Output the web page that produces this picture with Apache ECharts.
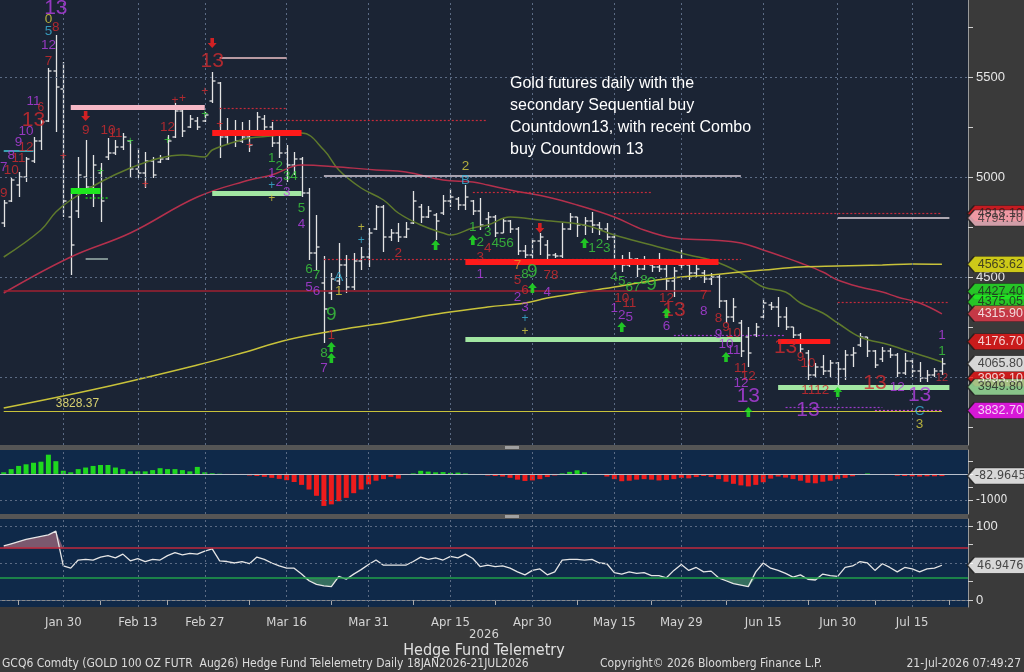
<!DOCTYPE html>
<html>
<head>
<meta charset="utf-8">
<script src="https://cdn.jsdelivr.net/npm/echarts@6/dist/echarts.min.js"></script>
<style>
html,body{margin:0;padding:0;background:#3a3a3a;}
#chart{width:1024px;height:672px;}
</style>
</head>
<body>
<div id="chart"></div>
<script>
// trading days 20 Jan - 21 Jul 2026 (exchange holidays skipped)
var holidays = ['2026-02-16','2026-05-25','2026-06-19','2026-07-03'];
var monthNames = ['Jan','Feb','Mar','Apr','May','Jun','Jul','Aug','Sep','Oct','Nov','Dec'];
var dates = [];
for (var d = new Date(Date.UTC(2026,0,20)); d <= new Date(Date.UTC(2026,6,21)); d.setUTCDate(d.getUTCDate()+1)) {
  var wd = d.getUTCDay();
  var iso = d.toISOString().slice(0,10);
  if (wd === 0 || wd === 6 || holidays.indexOf(iso) >= 0) continue;
  dates.push(monthNames[d.getUTCMonth()] + ' ' + d.getUTCDate());
}
var categories = dates.concat([' ', '  ', '   ']);   // empty room before the price scale
var labelIdx = [8,18,27,38,49,60,71,82,91,102,112,122];
var tickIdx = [2,13,22,33,44,55,66,77,87,97,108,117,127];

// OHLC (GCQ6)
var opens  = [4770,4880,4960,5000,5080,5180,5280,5530,5440,4800, 4830,5000,4950,5020,5100,5120,5150,5180,5040,5020,
              5080,5075,5090,5200,5330,5250,5280,5280,5380,5470, 5200,5230,5180,5200,5230,5290,5250,5170,5120,5060,
              5090,4920,4620,4470,4420,4480,4560,4450,4580,4600, 4740,4850,4700,4720,4700,4770,4850,4800,4810,4820,
              4880,4890,4860,4880,4830,4790,4800,4720,4780,4740, 4630,4610,4680,4660,4610,4605,4740,4800,4760,4780,
              4760,4740,4700,4580,4560,4590,4540,4560,4550,4540, 4480,4560,4560,4520,4520,4490,4500,4380,4300,4270,
              4200,4210,4300,4360,4350,4300,4250,4210,4120,4010, 4050,4030,4070,4040,4110,4160,4200,4130,4090,4130,
              4110,4020,4080,4030,3995,4010,4030];
var highs  = [4885,4995,5025,5100,5200,5285,5545,5710,5575,4920, 5100,5185,5110,5070,5195,5185,5220,5185,5145,5125,
              5100,5110,5210,5370,5345,5310,5300,5325,5525,5475, 5295,5285,5275,5285,5325,5310,5275,5220,5160,5125,
              5100,4945,4810,4605,4520,4670,4610,4620,4650,4745, 4860,4860,4740,4770,4775,4930,4865,4855,4820,4910,
              4940,4900,4960,4885,4895,4825,4810,4795,4785,4750, 4660,4695,4720,4685,4620,4770,4820,4800,4800,4825,
              4775,4770,4720,4610,4625,4595,4605,4575,4620,4560, 4550,4635,4570,4560,4535,4520,4510,4385,4395,4285,
              4250,4270,4395,4375,4400,4350,4250,4220,4135,4070, 4110,4085,4075,4135,4150,4220,4200,4135,4150,4145,
              4120,4120,4095,4075,4035,4045,4095];
var lows   = [4750,4875,4900,4975,5070,5135,5275,5225,4800,4510, 4795,4910,4850,4775,5085,5110,5135,4995,4995,4945,
              4995,5070,5085,5195,5200,5245,5235,5275,5370,5095, 5160,5150,5170,5125,5220,5235,5150,5095,4975,5010,
              4900,4585,4535,4170,4385,4460,4420,4435,4535,4550, 4735,4625,4680,4675,4695,4765,4770,4795,4685,4810,
              4850,4835,4835,4810,4735,4750,4700,4720,4720,4610, 4595,4595,4610,4585,4595,4595,4735,4700,4710,4720,
              4710,4685,4535,4525,4550,4500,4535,4525,4525,4435, 4400,4535,4485,4500,4470,4460,4345,4270,4275,4100,
              4050,4200,4295,4335,4250,4235,4195,4120,3985,3995, 4010,4000,3935,3985,4050,4150,4100,4045,4075,4095,
              4000,4010,4000,3975,3975,4000,4010];
var closes = [4870,4985,5000,5090,5180,5275,5530,5450,4880,4660, 5010,4950,5060,4880,5120,5150,5200,5040,5020,5080,
              5010,5090,5180,5330,5230,5290,5250,5310,5480,5200, 5230,5180,5200,5160,5300,5250,5170,5120,5060,5090,
              4920,4620,4650,4340,4490,4560,4450,4580,4600,4720, 4850,4700,4720,4700,4740,4880,4800,4830,4780,4880,
              4900,4860,4900,4830,4760,4800,4720,4780,4740,4630, 4610,4680,4700,4610,4605,4740,4800,4760,4780,4760,
              4740,4700,4580,4560,4590,4540,4580,4550,4540,4480, 4530,4560,4520,4540,4490,4500,4380,4300,4350,4130,
              4120,4250,4370,4350,4300,4250,4210,4140,4010,4050, 4030,4070,4040,4110,4120,4200,4130,4060,4130,4110,
              4020,4080,4030,3995,4010,4030,4065.8];

// moving averages: [bar index, price]
var maShort = [[0,4600],[5,4735],[7,4825],[9,4885],[13,4975],[17,5045],[21,5095],[24,5110],[27,5100],[28,5135],
               [31,5175],[33,5195],[36,5205],[40,5220],[43,5135],[45,5035],[48,4945],[51,4885],[53,4820],[56,4760],
               [59,4720],[60,4710],[63,4745],[65,4760],[68,4800],[72,4785],[78,4760],[82,4710],[87,4660],[92,4610],
               [95,4585],[99,4520],[102,4450],[105,4425],[107,4370],[110,4320],[112,4270],[115,4200],[119,4160],
               [121,4135],[124,4100],[126,4075]];
var maMid   = [[0,4420],[9,4600],[17,4720],[26,4900],[33,4985],[36,5010],[40,5060],[45,5050],[50,5035],[54,5025],
               [59,4985],[63,4975],[65,4960],[68,4935],[73,4900],[77,4860],[82,4800],[86,4735],[90,4695],[95,4685],
               [99,4670],[102,4635],[104,4610],[107,4570],[110,4525],[112,4485],[115,4450],[118,4425],[120,4400],
               [123,4370],[126,4315.9]];
var maLong  = [[0,3845],[13,3945],[26,4060],[32,4120],[38,4185],[45,4235],[52,4275],[59,4320],[65,4350],[70,4370],
               [73,4395],[82,4450],[86,4475],[91,4500],[95,4510],[99,4525],[102,4535],[107,4550],[112,4555],
               [118,4560],[122,4565],[126,4563.62]];

// indicator panels
var histogram = [62,185,308,370,430,470,740,490,123,62, 185,246,308,344,344,246,185,98,98,98,
                 148,221,185,185,148,98,270,62,25,10, -10,-25,-40,-60,-80,-110,-150,-190,-240,-310,
                 -420,-600,-840,-1230,-1170,-1050,-920,-740,-600,-400, -260,-200,-110,-180,-20,20,120,90,60,70,
                 40,50,20,-20,-40,-60,-80,-100,-150,-220, -270,-250,-200,-120,-60,20,80,140,60,-10,
                 -30,-100,-200,-280,-260,-220,-200,-220,-250,-230, -200,-150,-170,-120,-80,-120,-200,-300,-380,-440,
                 -480,-420,-320,-180,-100,-140,-200,-260,-340,-360, -300,-260,-200,-150,-90,-20,20,0,-10,-40,
                 -70,-80,-90,-100,-90,-90,-82.96];
var oscillator = [73,76,79,82,84,86,88,93,46,43, 54,55,54,58,60,57,62,53,56,52,
                  55,54,60,64,61,63,62,66,69,53, 52,50,52,49,58,55,50,46,43,43,
                  35,26,21,19,18,32,28,35,41,48, 54,47,47,47,47,52,58,55,57,54,
                  59,57,62,56,45,47,45,46,43,38, 34,40,42,34,38,54,55,55,54,55,
                  50,49,37,35,38,36,37,33,33,30, 40,48,40,44,38,39,30,26,22,20,
                  18,38,50,43,40,36,31,34,28,27, 35,33,32,44,46,52,50,40,49,44,
                  38,44,42,38,42,43,46.95];

// level lines: from bar, to bar, price, colour, width, style
var segFrom  = [9, 28,28,9, 11,11,29,29,36,63, 82, 43,112,43,62,0, 62,104,104,90, 105,117,0, 0, 112];
var segTo    = [27,40,40,13,14,14,38,38,65,87, 126,99,127,99,96,95,99,111,127,105,118,126,126,4, 127];
var segLevel = [5350,5220,4920,4930,4895,4590,5595,5345,5282,4925, 4818.1,5005,4794.7,4588,4575,4430,4190,4176.7,3949.8,4210,
                3850,3832.7,3828.37,5130,4375];
var segColor = ['#f6b8c6','#ff1a1a','#a2e6a2','#1ee81e','#1ec81e','#7d8f8f','#b89aa2','#c42a3a','#c42a3a','#c42a3a',
                '#c42a3a','#d8ccd8','#e0d4dc','#c42a3a','#ff1a1a','#a02030','#a2e6a2','#ff1a1a','#a2e6a2','#9a3ac8',
                '#9a3ac8','#d040d0','#c8c23a','#3aa0b0','#c42a3a'];
var segWidth = [5,6,5,6,1.5,2,2,1.2,1.2,1.2, 1.2,1.5,1.5,1.2,6,1.5,5,5,5,1.2, 1.2,1.2,1.2,2,1.2];
var segType  = ['solid','solid','solid','solid','dotted','solid','solid','dotted','dotted','dotted',
                'dotted','solid','solid','dotted','solid','solid','solid','solid','solid','dotted',
                'dotted','dotted','solid','solid','dotted'];

// sequential / combo counts: bar, price, text, colour key, size
var seqColors = {r:'#d22a2e', m:'#b43fe3', g:'#3ccc3c', y:'#d8d040', c:'#3cb4d8', o:'#e8962c'};
var seqMarks = [
  [7,5845,'13','m',21],[6,5790,'0','y',13.5],[6,5730,'5','c',13.5],[7,5750,'8','r',13.5],[6,5660,'12','m',13.5],[6,5580,'7','r',13.5],
  [4,5380,'11','m',13.5],[5,5345,'6','r',12],[4,5285,'13','r',21],[3,5230,'10','m',13.5],[2,5175,'9','m',13.5],[3,5150,'12','r',13.5],
  [1,5110,'8','m',13.5],[2,5095,'11','r',13.5],[0,5050,'7','m',13.5],[1,5035,'10','r',13.5],[0,4920,'9','r',13.5],
  [11,5235,'9','r',13.5],[14,5235,'10','r',13.5],[15,5220,'11','r',13.5],[22,5250,'12','r',13.5],[28,5580,'13','r',21],
  [36,5095,'1','g',13.5],[37,5055,'2','g',13.5],[38,5005,'3','g',13.5],[39,5005,'4','g',13.5],[40,4845,'5','g',13.5],[40,4765,'4','m',13.5],
  [36,5020,'1','m',13.5],[37,4975,'2','m',13.5],[38,4925,'3','m',13.5],
  [41,4540,'6','g',13.5],[42,4510,'7','g',13.5],[41,4450,'5','m',13.5],[42,4430,'6','m',13.5],[45,4500,'A','c',13.5],[45,4430,'1','y',13.5],
  [44,4310,'9','g',19],[44,4210,'1','r',13.5],[43,4120,'8','g',13.5],[43,4045,'7','m',13.5],
  [53,4620,'2','r',13.5],[62,5055,'2','y',13.5],[62,4985,'B','c',13.5],
  [63,4750,'1','g',13.5],[64,4675,'2','g',13.5],[65,4725,'3','g',13.5],[65,4645,'4','r',13.5],[66,4670,'4','g',13.5],[67,4670,'5','g',13.5],
  [68,4670,'6','g',13.5],[64,4600,'3','r',13.5],[64,4515,'1','m',13.5],
  [69,4560,'7','o',13.5],[70,4515,'8','g',13.5],[71,4525,'9','g',19],[69,4485,'5','r',13.5],[70,4435,'6','r',13.5],[69,4400,'2','m',13.5],
  [70,4350,'3','m',13.5],[73,4510,'7','r',13.5],[74,4510,'8','r',13.5],[73,4425,'4','m',13.5],
  [79,4645,'1','g',13.5],[80,4665,'2','g',13.5],[81,4645,'3','g',13.5],
  [82,4500,'4','g',13.5],[83,4480,'5','g',13.5],[84,4450,'6','g',13.5],[85,4450,'7','g',13.5],[86,4485,'8','g',13.5],[87,4460,'9','g',19],
  [83,4395,'10','r',13.5],[84,4370,'11','r',13.5],[82,4345,'1','m',13.5],[83,4310,'2','m',13.5],[84,4300,'5','m',13.5],
  [89,4395,'12','r',13.5],[90,4335,'13','r',21],[89,4255,'6','m',13.5],
  [94,4410,'7','r',13.5],[94,4330,'8','m',13.5],[96,4295,'8','r',13.5],[97,4250,'9','r',13.5],[98,4220,'10','r',13.5],
  [96,4215,'9','m',13.5],[97,4165,'10','m',13.5],[98,4135,'11','m',13.5],
  [99,4045,'11','r',13.5],[100,4005,'12','r',13.5],[99,3970,'12','m',13.5],[100,3905,'13','m',21],
  [105,4150,'13','r',21],[107,4100,'9','r',13.5],[108,4070,'10','r',13.5],[109,3935,'1112','r',13.5],[108,3835,'13','m',21],
  [117,3970,'13','r',21],[120,3950,'12','m',13.5],[123,3910,'13','m',21],[123,3830,'C','c',13.5],[123,3765,'3','y',13.5],
  [126,4210,'1','m',13.5],[126,4130,'1','g',13.5],[126,3995,'12','r',11],
  [36,4955,'+','c',12],[36,4890,'+','y',12],[48,4745,'+','y',12],[48,4680,'+','c',12],[70,4290,'+','c',12],[70,4225,'+','y',12],
  [23,5380,'+','r',12],[24,5390,'+','r',12],[27,5425,'+','r',12],[8,5100,'+','r',12],[29,5260,'+','r',12],[33,5155,'+','r',12],
  [19,4960,'+','r',12],[17,5175,'+','g',12],[13,5025,'+','g',12],[22,5180,'+','g',12],[27,5310,'+','g',12]
];
var downArrows = [[11,5305],[28,5670],[72,4745]];
var upArrows = [[44,4150],[44,4095],[58,4660],[63,4685],[71,4445],[78,4670],[83,4250],[89,4320],[97,4100],[100,3825],[112,3925]];

// right-hand value tags
var tagValues = [4818.10,4794.70,4563.62,4427.40,4375.05,4315.90,4176.70,3993.10,4065.80,3949.80,3832.70];
var tagFill   = ['#e8141c','#f8b8c4','#f2ee10','#22e822','#22e822','#e8384a','#ee1414','#ee1414','#ffffff','#9ee89e','#ff10ff'];
var tagInk    = ['#222','#333','#222','#222','#222','#fff','#fff','#fff','#222','#222','#fff'];
var histTag = -82.9645;
var oscTag = 46.9476;

var FONT = '"Liberation Sans", Arial, sans-serif';
var NARROW = '"Liberation Sans Narrow", "DejaVu Sans Condensed", sans-serif';
var lastCat = categories.length - 1;
var tagPath = 'path://M0,8L7,0L64,0L64,16L7,16Z';

function tagSeries(xi, yi, values, digits, fills, inks, font, size) {
  return {
    type: 'scatter', xAxisIndex: xi, yAxisIndex: yi, clip: false, silent: true, z: 10,
    symbol: tagPath, symbolSize: [64, 16], symbolKeepAspect: false, symbolOffset: [35, 0],
    data: values.map(function (v, k) {
      return {
        value: [lastCat, v],
        itemStyle: {color: fills[k], borderColor: '#1a1a1a', borderWidth: 1},
        label: {show: true, position: 'inside', offset: [1, 0], formatter: v.toFixed(digits),
                color: inks[k], fontSize: size, fontFamily: font}
      };
    })
  };
}

var vGrid = labelIdx.map(function (i) { return {xAxis: i}; });
var dotted = {color: '#5b6b84', type: [2, 3], width: 1};
var plain = function (v) { return String(v); };

var ohlc = opens.map(function (o, i) { return [i, o, highs[i], lows[i], closes[i]]; });

var segData = segLevel.map(function (v, k) {
  var item = [{coord: [segFrom[k], v], lineStyle: {color: segColor[k], width: segWidth[k], type: segType[k] === 'dotted' ? [2, 2] : 'solid'}},
              {coord: [segTo[k], v]}];
  if (v === 3828.37) {
    item[0].label = {show: true, position: 'insideStartTop', formatter: '3828.37', color: '#d8d070',
                     fontSize: 12, fontFamily: FONT, padding: [0, 0, 0, 50], distance: 2};
  }
  return item;
});

var seqData = seqMarks.map(function (s) {
  return {value: [s[0], s[1]], label: {formatter: s[2], color: seqColors[s[3]], fontSize: s[4]}};
});

var chart = echarts.init(document.getElementById('chart'));
chart.setOption({
  backgroundColor: '#3a3a3a',
  animation: false,
  textStyle: {fontFamily: FONT},
  grid: [
    {left: 0, right: 56, top: 0, height: 445, show: true, backgroundColor: '#1b2434', borderWidth: 0},
    {left: 0, right: 56, top: 450, height: 64, show: true, backgroundColor: '#0f2949', borderWidth: 0},
    {left: 0, right: 56, top: 519, height: 88, show: true, backgroundColor: '#0f2949', borderWidth: 0}
  ],
  xAxis: [0, 1, 2].map(function (g) {
    return {
      type: 'category', gridIndex: g, data: categories, boundaryGap: true,
      axisLine: {show: g === 2, lineStyle: {color: '#8a8a8a'}},
      axisTick: {show: g === 2, alignWithLabel: true, length: 5, lineStyle: {color: '#aaaaaa'},
                 interval: function (i) { return tickIdx.indexOf(i) >= 0; }},
      axisLabel: {show: g === 2, color: '#d4d4d4', fontSize: 13, fontFamily: NARROW, margin: 9,
                  interval: function (i) { return labelIdx.indexOf(i) >= 0; }},
      splitLine: {show: false}
    };
  }),
  yAxis: [
    {type: 'value', gridIndex: 0, position: 'right', min: 3660, max: 5885, scale: true,
     axisLine: {show: true, lineStyle: {color: '#9a9a9a'}},
     axisTick: {show: true, length: 5, lineStyle: {color: '#d0d0d0'}, customValues: [3750,4000,4250,4500,4750,5000,5250,5500,5750]},
     axisLabel: {color: '#e6e6e6', fontSize: 13, margin: 8, formatter: plain, customValues: [4500, 5000, 5500]},
     splitLine: {show: false}},
    {type: 'value', gridIndex: 1, position: 'right', min: -1540, max: 920,
     axisLine: {show: true, lineStyle: {color: '#9a9a9a'}},
     axisTick: {show: true, length: 5, lineStyle: {color: '#d0d0d0'}, customValues: [-1000, -500, 0, 500]},
     axisLabel: {color: '#e6e6e6', fontSize: 12, fontFamily: NARROW, margin: 8, formatter: plain, customValues: [-1000]},
     splitLine: {show: false}},
    {type: 'value', gridIndex: 2, position: 'right', min: -9.5, max: 109.5,
     axisLine: {show: true, lineStyle: {color: '#9a9a9a'}},
     axisTick: {show: true, length: 5, lineStyle: {color: '#d0d0d0'}, customValues: [0, 25, 50, 75, 100]},
     axisLabel: {color: '#e6e6e6', fontSize: 13, margin: 8, formatter: plain, customValues: [0, 100]},
     splitLine: {show: false}}
  ],
  series: [
    // main panel grid lines
    {type: 'line', xAxisIndex: 0, yAxisIndex: 0, data: closes, silent: true, z: 1,
     showSymbol: false, lineStyle: {opacity: 0},
     markLine: {silent: true, symbol: 'none', label: {show: false}, lineStyle: dotted, animation: false,
                data: vGrid.concat([{yAxis: 4000}, {yAxis: 4500}, {yAxis: 5000}, {yAxis: 5500}])}},
    // price bars
    {type: 'custom', xAxisIndex: 0, yAxisIndex: 0, z: 2, silent: true, data: ohlc,
     renderItem: function (params, api) {
       var i = api.value(0);
       var pO = api.coord([i, api.value(1)]), pH = api.coord([i, api.value(2)]);
       var pL = api.coord([i, api.value(3)]), pC = api.coord([i, api.value(4)]);
       var x = Math.round(pH[0]) + 0.5;
       var st = {stroke: '#e4e4e4', lineWidth: 1.3};
       return {type: 'group', children: [
         {type: 'line', shape: {x1: x, y1: pH[1], x2: x, y2: pL[1]}, style: st},
         {type: 'line', shape: {x1: x - 3, y1: pO[1], x2: x, y2: pO[1]}, style: st},
         {type: 'line', shape: {x1: x, y1: pC[1], x2: x + 3, y2: pC[1]}, style: st}
       ]};
     }},
    {type: 'line', xAxisIndex: 0, yAxisIndex: 0, data: maShort, smooth: 0.4, showSymbol: false, z: 3,
     lineStyle: {color: '#5f7a2c', width: 1.5}},
    {type: 'line', xAxisIndex: 0, yAxisIndex: 0, data: maMid, smooth: 0.4, showSymbol: false, z: 3,
     lineStyle: {color: '#b4304c', width: 1.5}},
    {type: 'line', xAxisIndex: 0, yAxisIndex: 0, data: maLong, smooth: 0.4, showSymbol: false, z: 3,
     lineStyle: {color: '#c8c23a', width: 1.5}},
    // levels
    {type: 'line', xAxisIndex: 0, yAxisIndex: 0, data: closes, silent: true, z: 4,
     showSymbol: false, lineStyle: {opacity: 0},
     markLine: {silent: true, symbol: 'none', animation: false, label: {show: false}, data: segData}},
    // counts
    {type: 'scatter', xAxisIndex: 0, yAxisIndex: 0, z: 5, silent: true, symbolSize: 1,
     itemStyle: {color: 'rgba(0,0,0,0)'}, data: seqData,
     label: {show: true, position: 'inside', fontFamily: FONT}},
    {type: 'scatter', xAxisIndex: 0, yAxisIndex: 0, z: 6, silent: true, data: downArrows,
     symbol: 'path://M3,0L7,0L7,5L10,5L5,10L0,5L3,5Z', symbolSize: [9, 10], itemStyle: {color: '#ff2020'}},
    {type: 'scatter', xAxisIndex: 0, yAxisIndex: 0, z: 6, silent: true, data: upArrows,
     symbol: 'path://M5,0L10,5L7,5L7,10L3,10L3,5L0,5Z', symbolSize: [9, 10], itemStyle: {color: '#22ee22'}},
    tagSeries(0, 0, tagValues, 2, tagFill, tagInk, FONT, 12.5),

    // middle panel
    {type: 'line', xAxisIndex: 1, yAxisIndex: 1, data: histogram, silent: true, z: 1,
     showSymbol: false, lineStyle: {opacity: 0},
     markLine: {silent: true, symbol: 'none', label: {show: false}, lineStyle: dotted, animation: false,
                data: vGrid.concat([{yAxis: -1000}])}},
    {type: 'bar', xAxisIndex: 1, yAxisIndex: 1, data: histogram, barWidth: 5, z: 2, silent: true,
     itemStyle: {color: function (p) { return p.value >= 0 ? '#1fd81f' : '#ee1c1c'; }},
     markLine: {silent: true, symbol: 'none', label: {show: false}, animation: false,
                lineStyle: {color: '#b8c0cc', width: 1, type: 'solid'}, data: [{yAxis: 0}]}},
    tagSeries(1, 1, [histTag], 4, ['#ffffff'], ['#222'], NARROW, 12.5),

    // bottom panel
    {type: 'line', xAxisIndex: 2, yAxisIndex: 2, data: oscillator, silent: true, z: 1,
     showSymbol: false, lineStyle: {opacity: 0},
     markLine: {silent: true, symbol: 'none', label: {show: false}, lineStyle: dotted, animation: false,
                data: vGrid.concat([{yAxis: 0}, {yAxis: 50}, {yAxis: 100},
                  {yAxis: 70, lineStyle: {color: '#c0283c', type: 'solid', width: 1.5}},
                  {yAxis: 30, lineStyle: {color: '#22a04a', type: 'solid', width: 1.5}}])}},
    {type: 'line', xAxisIndex: 2, yAxisIndex: 2, silent: true, z: 2, showSymbol: false,
     data: oscillator.map(function (v) { return Math.max(v, 70); }),
     lineStyle: {opacity: 0}, areaStyle: {origin: 70, color: 'rgba(196,120,136,0.85)'}},
    {type: 'line', xAxisIndex: 2, yAxisIndex: 2, silent: true, z: 2, showSymbol: false,
     data: oscillator.map(function (v) { return Math.min(v, 30); }),
     lineStyle: {opacity: 0}, areaStyle: {origin: 30, color: 'rgba(80,160,110,0.85)'}},
    {type: 'line', xAxisIndex: 2, yAxisIndex: 2, silent: true, z: 3, showSymbol: false, data: oscillator,
     lineStyle: {color: '#e6e6e6', width: 1.3}},
    tagSeries(2, 2, [oscTag], 4, ['#ffffff'], ['#222'], NARROW, 12.5)
  ],
  graphic: [
    {type: 'rect', shape: {x: 0, y: 445, width: 968, height: 5}, style: {fill: '#555555'}, z: 20},
    {type: 'rect', shape: {x: 505, y: 446, width: 14, height: 3}, style: {fill: '#a0a0a0'}, z: 21},
    {type: 'rect', shape: {x: 0, y: 514, width: 968, height: 5}, style: {fill: '#555555'}, z: 20},
    {type: 'rect', shape: {x: 505, y: 515, width: 14, height: 3}, style: {fill: '#a0a0a0'}, z: 21},
    {type: 'text', x: 510, y: 73, z: 30, style: {
      text: 'Gold futures daily with the\nsecondary Sequential buy\nCountdown13, with recent Combo\nbuy Countdown 13',
      fill: '#ffffff', font: '16px ' + FONT, lineHeight: 22}},
    {type: 'text', x: 484, y: 628, z: 30, style: {text: '2026', fill: '#d4d4d4', font: '13px ' + NARROW, textAlign: 'center'}},
    {type: 'text', x: 484, y: 643, z: 30, style: {text: 'Hedge Fund Telemetry', fill: '#e0e0e0', font: '16px ' + NARROW, textAlign: 'center'}},
    {type: 'text', x: 2, y: 658, z: 30, style: {text: 'GCQ6 Comdty (GOLD 100 OZ FUTR  Aug26) Hedge Fund Telelemetry Daily 18JAN2026-21JUL2026',
      fill: '#dcdcdc', font: '12px ' + NARROW}},
    {type: 'text', x: 600, y: 658, z: 30, style: {text: 'Copyright\u00a9 2026 Bloomberg Finance L.P.', fill: '#dcdcdc', font: '12px ' + NARROW}},
    {type: 'text', x: 1021, y: 658, z: 30, style: {text: '21-Jul-2026 07:49:27', fill: '#dcdcdc', font: '12px ' + NARROW, textAlign: 'right'}}
  ]
});
</script>
</body>
</html>
